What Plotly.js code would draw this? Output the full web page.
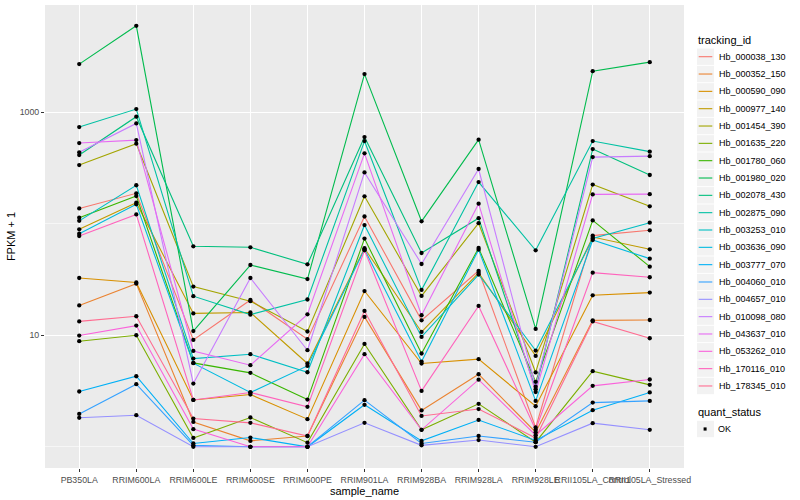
<!DOCTYPE html>
<html>
<head>
<meta charset="utf-8">
<script src="https://cdn.plot.ly/plotly-3.0.1.min.js"></script>
<style>html,body{margin:0;padding:0;background:#fff;}#chart{width:800px;height:500px;}</style>
</head>
<body>
<div id="chart"></div>
<script>
// x categories
const categories = ["PB350LA","RRIM600LA","RRIM600LE","RRIM600SE","RRIM600PE","RRIM901LA","RRIM928BA","RRIM928LA","RRIM928LE","RRII105LA_Control","RRII105LA_Stressed"];

// tracking ids (legend order)
const trackingIds = ["Hb_000038_130","Hb_000352_150","Hb_000590_090","Hb_000977_140","Hb_001454_390","Hb_001635_220","Hb_001780_060","Hb_001980_020","Hb_002078_430","Hb_002875_090","Hb_003253_010","Hb_003636_090","Hb_003777_070","Hb_004060_010","Hb_004657_010","Hb_010098_080","Hb_043637_010","Hb_053262_010","Hb_170116_010","Hb_178345_010"];

// FPKM + 1 values per tracking id, in category order
const hb_000038_130 = [137, 187, 9.08, 20.7, 9.21, 116, 13.6, 37.8, 1.49, 78.2, 87.2];
const hb_000352_150 = [18.5, 29.0, 1.67, 1.13, 1.25, 14.6, 2.12, 4.47, 1.35, 13.6, 13.7];
const hb_000590_090 = [32.6, 29.7, 2.63, 2.94, 1.77, 24.9, 5.58, 6.10, 2.31, 22.8, 24.1];
const hb_000977_140 = [89.0, 154, 15.7, 16.0, 5.58, 60.2, 10.7, 36.3, 6.53, 75.9, 58.9];
const hb_001454_390 = [335, 521, 27.3, 20.2, 10.8, 176, 22.5, 101, 4.64, 224, 143];
const hb_001635_220 = [8.84, 10.0, 1.20, 1.83, 1.09, 8.36, 1.42, 2.43, 1.10, 4.76, 3.59];
const hb_001780_060 = [113, 177, 5.65, 4.60, 2.65, 73.5, 6.86, 60.5, 3.82, 107, 41.2];
const hb_001980_020 = [2692, 5940, 10.9, 42.6, 31.9, 2190, 105, 566, 11.4, 2329, 2805];
const hb_002078_430 = [412, 910, 62.7, 61.4, 43.2, 597, 54.6, 112, 3.28, 466, 273];
const hb_002875_090 = [734, 1064, 22.4, 15.3, 20.9, 550, 25.5, 236, 57.7, 550, 442];
const hb_003253_010 = [106, 221, 6.18, 6.76, 4.66, 97.2, 9.66, 35.0, 7.29, 73.5, 102];
const hb_003636_090 = [81.4, 149, 5.62, 3.07, 5.31, 58.9, 5.81, 58.5, 2.58, 71.4, 48.6];
const hb_003777_070 = [3.13, 4.29, 1.07, 1.21, 1.00, 2.38, 1.13, 1.74, 1.14, 2.13, 3.07];
const hb_004060_010 = [1.97, 3.64, 1.03, 1.00, 1.00, 2.62, 1.07, 1.25, 1.10, 2.49, 2.58];
const hb_004657_010 = [1.82, 1.92, 1.00, 1.00, 1.00, 1.64, 1.03, 1.15, 1.00, 1.63, 1.42];
const hb_010098_080 = [436, 792, 3.69, 32.6, 7.34, 288, 43.5, 309, 3.46, 395, 403];
const hb_043637_010 = [528, 561, 7.23, 5.39, 15.4, 427, 15.1, 151, 3.10, 183, 184];
const hb_053262_010 = [9.94, 12.2, 1.44, 1.00, 1.00, 6.76, 1.42, 4.00, 1.27, 3.52, 4.01];
const hb_170116_010 = [77.5, 121, 2.63, 3.07, 2.28, 57.7, 3.17, 18.3, 1.42, 36.4, 33.1];
const hb_178345_010 = [13.3, 14.8, 1.79, 1.64, 1.25, 16.5, 1.89, 2.18, 1.20, 13.3, 9.40];

const seriesValues = [hb_000038_130, hb_000352_150, hb_000590_090, hb_000977_140, hb_001454_390, hb_001635_220, hb_001780_060, hb_001980_020, hb_002078_430, hb_002875_090, hb_003253_010, hb_003636_090, hb_003777_070, hb_004060_010, hb_004657_010, hb_010098_080, hb_043637_010, hb_053262_010, hb_170116_010, hb_178345_010];

// ggplot2 default hue palette for 20 levels
const colors = ["#F8766D","#EA8331","#D89000","#C09B00","#A3A500","#7CAE00","#39B600","#00BB4E","#00BF7D","#00C1A3","#00BFC4","#00BAE0","#00B0F6","#35A2FF","#9590FF","#C77CFF","#E76BF3","#FA62DB","#FF62BC","#FF6C91"];

const quantStatus = ["OK"];
const yTicks = [10, 1000];
const yMinor = [1, 100];

const font = "Liberation Sans, Arial, sans-serif";

// plot area geometry (pixels)
const W = 800, H = 500;
const M = {l: 45, r: 116, t: 5, b: 32};
const PW = W - M.l - M.r, PH = H - M.t - M.b;
const px = x => (x - M.l) / PW;
const py = y => 1 - (y - M.t) / PH;

const traces = trackingIds.map((id, i) => ({
  type: 'scatter', mode: 'lines', name: id,
  x: categories, y: seriesValues[i],
  line: {color: colors[i], width: 1.1},
  hoverinfo: 'name+y', showlegend: false
}));

const allX = [], allY = [];
seriesValues.forEach(vals => vals.forEach((v, j) => { allX.push(categories[j]); allY.push(v); }));
traces.push({
  type: 'scatter', mode: 'markers', name: quantStatus[0],
  x: allX, y: allY,
  marker: {color: 'black', size: 4.3, symbol: 'circle'},
  showlegend: false
});

// manual ggplot-style legends
const shapes = [], annotations = [];
const keyX0 = 697, keyX1 = 714, textX = 717;
const entry0 = 56.7, step = 17.33;
annotations.push({xref: 'paper', yref: 'paper', x: px(696), y: py(39.5), xanchor: 'left', yanchor: 'middle',
  text: 'tracking_id', showarrow: false, font: {family: font, size: 11, color: '#000'}});
trackingIds.forEach((id, i) => {
  const cy = entry0 + step * i;
  shapes.push({type: 'rect', xref: 'paper', yref: 'paper', x0: px(keyX0), x1: px(keyX1), y0: py(cy - 8.2), y1: py(cy + 8.2),
    fillcolor: '#F2F2F2', line: {width: 0}, layer: 'above'});
  shapes.push({type: 'line', xref: 'paper', yref: 'paper', x0: px(keyX0 + 1.7), x1: px(keyX1 - 1.7), y0: py(cy), y1: py(cy),
    line: {color: colors[i], width: 1.1}, layer: 'above'});
  annotations.push({xref: 'paper', yref: 'paper', x: px(textX), y: py(cy), xanchor: 'left', yanchor: 'middle',
    text: id, showarrow: false, font: {family: font, size: 9, color: '#000'}});
});
annotations.push({xref: 'paper', yref: 'paper', x: px(696), y: py(412), xanchor: 'left', yanchor: 'middle',
  text: 'quant_status', showarrow: false, font: {family: font, size: 11, color: '#000'}});
const okY = 429;
shapes.push({type: 'rect', xref: 'paper', yref: 'paper', x0: px(keyX0), x1: px(keyX1), y0: py(okY - 8.2), y1: py(okY + 8.2),
  fillcolor: '#F2F2F2', line: {width: 0}, layer: 'above'});
shapes.push({type: 'rect', xref: 'paper', yref: 'paper', x0: px(703.6), x1: px(706.6), y0: py(okY - 1.6), y1: py(okY + 1.6),
  fillcolor: '#000', line: {width: 0}, layer: 'above'});
annotations.push({xref: 'paper', yref: 'paper', x: px(textX - 1), y: py(okY), xanchor: 'left', yanchor: 'middle',
  text: quantStatus[0], showarrow: false, font: {family: font, size: 9, color: '#000'}});

const layout = {
  width: W, height: H,
  paper_bgcolor: '#FFFFFF', plot_bgcolor: '#EBEBEB',
  margin: M,
  font: {family: font, size: 9, color: '#4D4D4D'},
  showlegend: false,
  xaxis: {
    type: 'category', categoryorder: 'array', categoryarray: categories,
    range: [-0.6, 10.6], showgrid: true, gridcolor: '#FFFFFF', gridwidth: 1.1,
    zeroline: false, showline: false, ticks: 'outside', ticklen: 3, tickcolor: '#333333', tickwidth: 1,
    tickangle: 0, tickfont: {family: font, size: 8.8, color: '#4D4D4D'},
    title: {text: 'sample_name', font: {family: font, size: 11, color: '#000000'}, standoff: 0},
    automargin: false
  },
  yaxis: {
    type: 'log', range: [-0.19, 3.96],
    tickvals: yTicks, ticktext: yTicks.map(String),
    showgrid: true, gridcolor: '#FFFFFF', gridwidth: 1.1,
    minor: {tickvals: yMinor, showgrid: true, gridcolor: '#FFFFFF', gridwidth: 0.55, ticklen: 0},
    zeroline: false, showline: false, ticks: 'outside', ticklen: 3, tickcolor: '#333333', tickwidth: 1,
    tickfont: {family: font, size: 8.8, color: '#4D4D4D'},
    title: {text: 'FPKM + 1', font: {family: font, size: 11, color: '#000000'}, standoff: 1},
    automargin: false
  },
  shapes: shapes,
  annotations: annotations
};

Plotly.newPlot('chart', traces, layout, {displayModeBar: false, staticPlot: true});
</script>
</body>
</html>
